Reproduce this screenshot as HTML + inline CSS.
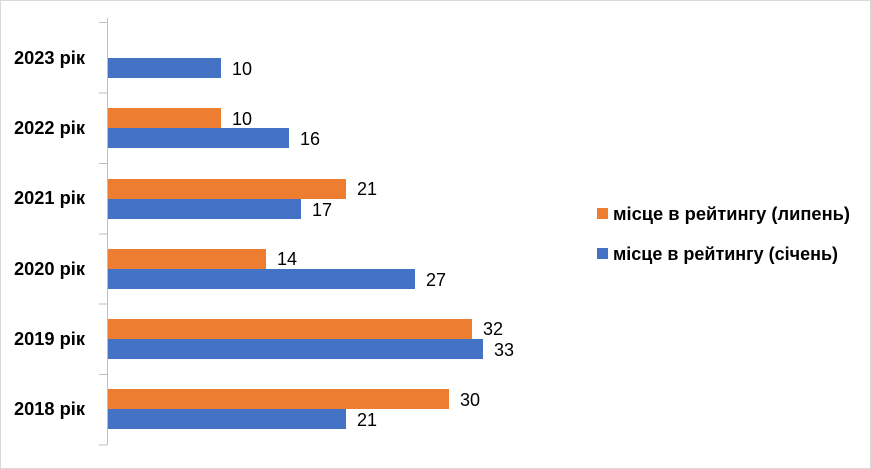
<!DOCTYPE html>
<html><head><meta charset="utf-8"><style>
body{margin:0;background:#fff;}
svg{display:block;font-family:"Liberation Sans","DejaVu Sans",sans-serif;}
</style></head><body>
<svg width="871" height="469" viewBox="0 0 871 469">
<rect x="0.5" y="0.5" width="870" height="468" fill="#fff" stroke="#d9d9d9"/>
<line x1="107.5" y1="18" x2="107.5" y2="445" stroke="#bfbfbf"/>
<g stroke="#bfbfbf">
<line x1="99" y1="22.5" x2="107" y2="22.5"/><line x1="99" y1="93" x2="107" y2="93"/>
<line x1="99" y1="163.5" x2="107" y2="163.5"/><line x1="99" y1="234" x2="107" y2="234"/>
<line x1="99" y1="304" x2="107" y2="304"/><line x1="99" y1="374.5" x2="107" y2="374.5"/>
<line x1="99" y1="445" x2="107" y2="445"/>
</g>
<g fill="#4472c4">
<rect x="108" y="58" width="113" height="20"/>
<rect x="108" y="128" width="181" height="20"/>
<rect x="108" y="199" width="193" height="20"/>
<rect x="108" y="269" width="307" height="20"/>
<rect x="108" y="339" width="375" height="20"/>
<rect x="108" y="409" width="238" height="20"/>
</g>
<g fill="#ed7d31">
<rect x="108" y="108" width="113" height="20"/>
<rect x="108" y="179" width="238" height="20"/>
<rect x="108" y="249" width="158" height="20"/>
<rect x="108" y="319" width="364" height="20"/>
<rect x="108" y="389" width="341" height="20"/>
</g>
<g font-size="18" fill="#000" dominant-baseline="central">
<text x="232" y="69">10</text>
<text x="232" y="119">10</text><text x="300" y="139">16</text>
<text x="357" y="189">21</text><text x="312" y="210">17</text>
<text x="277" y="259">14</text><text x="426" y="280">27</text>
<text x="483" y="329">32</text><text x="494" y="350">33</text>
<text x="460" y="400">30</text><text x="357" y="420">21</text>
</g>
<g font-size="18" font-weight="bold" fill="#000" dominant-baseline="central">
<text x="14" y="58" textLength="71" lengthAdjust="spacingAndGlyphs">2023 рік</text>
<text x="14" y="128" textLength="71" lengthAdjust="spacingAndGlyphs">2022 рік</text>
<text x="14" y="198" textLength="71" lengthAdjust="spacingAndGlyphs">2021 рік</text>
<text x="14" y="269" textLength="71" lengthAdjust="spacingAndGlyphs">2020 рік</text>
<text x="14" y="339" textLength="71" lengthAdjust="spacingAndGlyphs">2019 рік</text>
<text x="14" y="409" textLength="71" lengthAdjust="spacingAndGlyphs">2018 рік</text>
</g>
<rect x="597" y="208" width="11" height="11" fill="#ed7d31"/>
<rect x="597" y="248" width="11" height="11" fill="#4472c4"/>
<g font-size="18" font-weight="bold" fill="#000" dominant-baseline="central">
<text x="613" y="214" textLength="237" lengthAdjust="spacingAndGlyphs">місце в рейтингу (липень)</text>
<text x="613" y="254" textLength="225" lengthAdjust="spacingAndGlyphs">місце в рейтингу (січень)</text>
</g>
</svg>
</body></html>
